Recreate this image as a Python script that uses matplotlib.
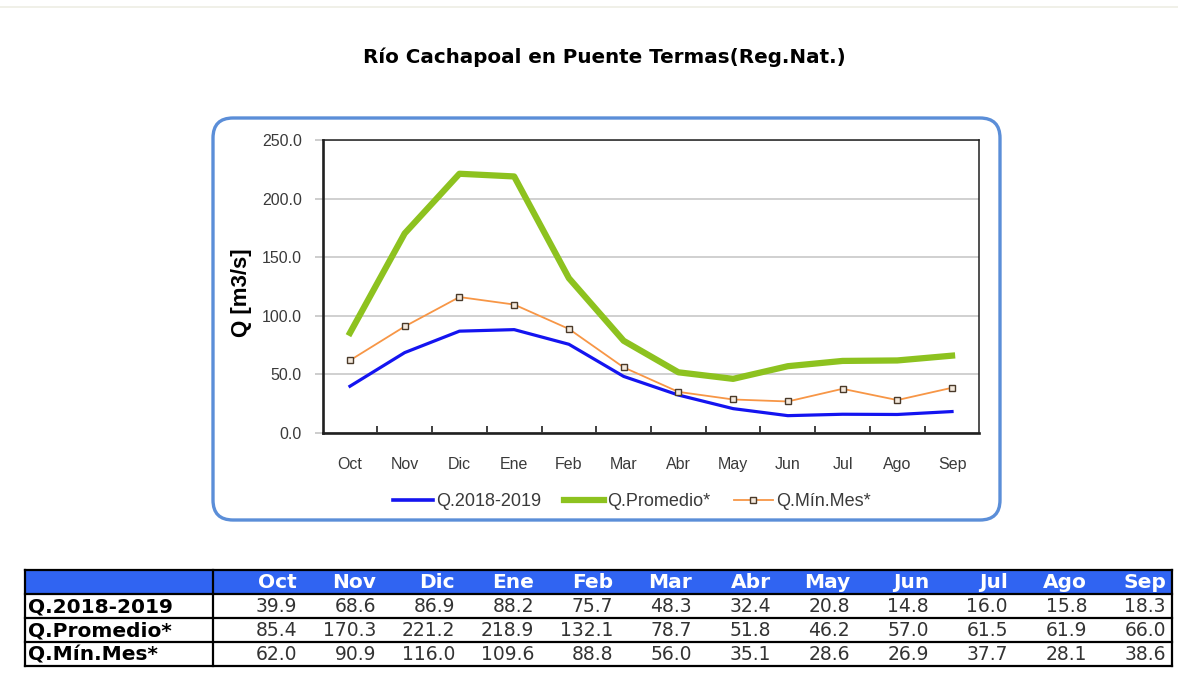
import matplotlib.pyplot as plt
import numpy as np
from matplotlib.patches import FancyBboxPatch, Rectangle
from matplotlib.lines import Line2D

# data
meses = ['Oct', 'Nov', 'Dic', 'Ene', 'Feb', 'Mar', 'Abr', 'May', 'Jun', 'Jul', 'Ago', 'Sep']
q_2018 = [39.9, 68.6, 86.9, 88.2, 75.7, 48.3, 32.4, 20.8, 14.8, 16.0, 15.8, 18.3]
q_prom = [85.4, 170.3, 221.2, 218.9, 132.1, 78.7, 51.8, 46.2, 57.0, 61.5, 61.9, 66.0]
q_min = [62.0, 90.9, 116.0, 109.6, 88.8, 56.0, 35.1, 28.6, 26.9, 37.7, 28.1, 38.6]
series_names = ['Q.2018-2019', 'Q.Promedio*', 'Q.Mín.Mes*']

W, H = 1178, 689
fig = plt.figure(figsize=(W / 100, H / 100), dpi=100)
fig.patch.set_facecolor('white')

chart_font = 'Liberation Sans'
table_font = 'DejaVu Sans'

# background layer in pixel units: frame, title and table
tab = fig.add_axes([0, 0, 1, 1], zorder=-1)
tab.set_xlim(0, W)
tab.set_ylim(H, 0)
tab.axis('off')

tab.plot([0, W], [7, 7], color='#eeeee4', lw=1.2)

tab.add_patch(FancyBboxPatch((213, 118), 1000 - 213, 520 - 118,
                             boxstyle='round,pad=0,rounding_size=20',
                             facecolor='none', edgecolor='#5b8ed8', linewidth=2.4))

tab.text(604, 57, 'Río Cachapoal en Puente Termas(Reg.Nat.)', ha='center', va='center',
         fontsize=14.3, fontweight='bold', family=table_font)

ax = fig.add_axes([322.6 / W, 1 - 433 / H, 656.8 / W, 293 / H])
ax.patch.set_alpha(0)
x = np.arange(len(meses))
ax.plot(x, q_prom, color='#8dc21f', lw=4.5, solid_joinstyle='round', zorder=3)
ax.plot(x, q_2018, color='#1414f0', lw=2.3, zorder=4)
ax.plot(x, q_min, color='#f79646', lw=1.3, marker='s', ms=4.5, mfc='#f4e9dc', mec='#4a3a2a', mew=1.0, zorder=5)

ax.set_xlim(-0.5, len(meses) - 0.5)
ax.set_ylim(0, 250)
ax.set_yticks(np.arange(0, 251, 50))
ax.set_yticklabels([f'{v:.1f}' for v in np.arange(0, 251, 50)], family=chart_font, fontsize=11.5,
                   color='#3a3a3a')
ax.set_xticks(x)
ax.set_xticklabels(meses, family=chart_font, fontsize=11.5, color='#3a3a3a')
ax.set_xticks(np.arange(0.5, len(meses) - 0.5), minor=True)
ax.tick_params(axis='x', which='major', length=0, pad=17)
ax.tick_params(axis='x', which='minor', length=5, direction='in', width=1.2, color='#202020')
ax.tick_params(axis='y', length=6, direction='out', width=1.1, color='#c0c0c0', pad=9)
ax.grid(axis='y', color='#c8c8c8', lw=1.2)
ax.set_axisbelow(True)
for s in ax.spines.values():
    s.set_color('#202020')
    s.set_linewidth(1.1)
ax.spines['bottom'].set_linewidth(1.9)
ax.spines['left'].set_linewidth(1.9)
ax.set_ylabel('Q [m3/s]', family=chart_font, fontsize=16, fontweight='bold')
ax.yaxis.set_label_coords(-0.107, 0.478)

handles = [Line2D([], [], color='#1414f0', lw=2.6),
           Line2D([], [], color='#8dc21f', lw=4.5),
           Line2D([], [], color='#f79646', lw=1.3, marker='s', ms=4.5, mfc='#f4e9dc', mec='#4a3a2a')]
fig.legend(handles, series_names, loc='center', bbox_to_anchor=(632 / W, 1 - 502 / H), ncol=3,
           frameon=False, prop={'family': chart_font, 'size': 13}, handlelength=2.2,
           columnspacing=1.3, handletextpad=0.15, labelcolor='#3a3a3a')

# table below the chart
tx0, tx1, c0 = 25, 1172, 213
col_right = np.linspace(297, 1166, len(meses))
rows_y = [570, 594, 618, 642, 666]
tab.add_patch(Rectangle((tx0, rows_y[0]), tx1 - tx0, rows_y[1] - rows_y[0], facecolor='#3064f2', edgecolor='none'))
for i, m in enumerate(meses):
    tab.text(col_right[i], (rows_y[0] + rows_y[1]) / 2 + 1, m, ha='right', va='center',
             color='white', fontsize=14.5, fontweight='bold', family=table_font)
for r, (name, vals) in enumerate(zip(series_names, [q_2018, q_prom, q_min])):
    yc = (rows_y[r + 1] + rows_y[r + 2]) / 2 + 1
    tab.text(tx0 + 3, yc, name, ha='left', va='center', fontsize=14.5, fontweight='bold', family=table_font)
    for i, v in enumerate(vals):
        tab.text(col_right[i], yc, f'{v:.1f}', ha='right', va='center', fontsize=13.5,
                 color='#333333', family=table_font)
for yy in rows_y:
    tab.plot([tx0, tx1], [yy, yy], color='black', lw=1.6)
tab.plot([tx0, tx0], [rows_y[0], rows_y[-1]], color='black', lw=1.6)
tab.plot([tx1, tx1], [rows_y[0], rows_y[-1]], color='black', lw=1.6)
tab.plot([c0, c0], [rows_y[0], rows_y[-1]], color='black', lw=1.6)

fig.savefig('out.png', dpi=100)
